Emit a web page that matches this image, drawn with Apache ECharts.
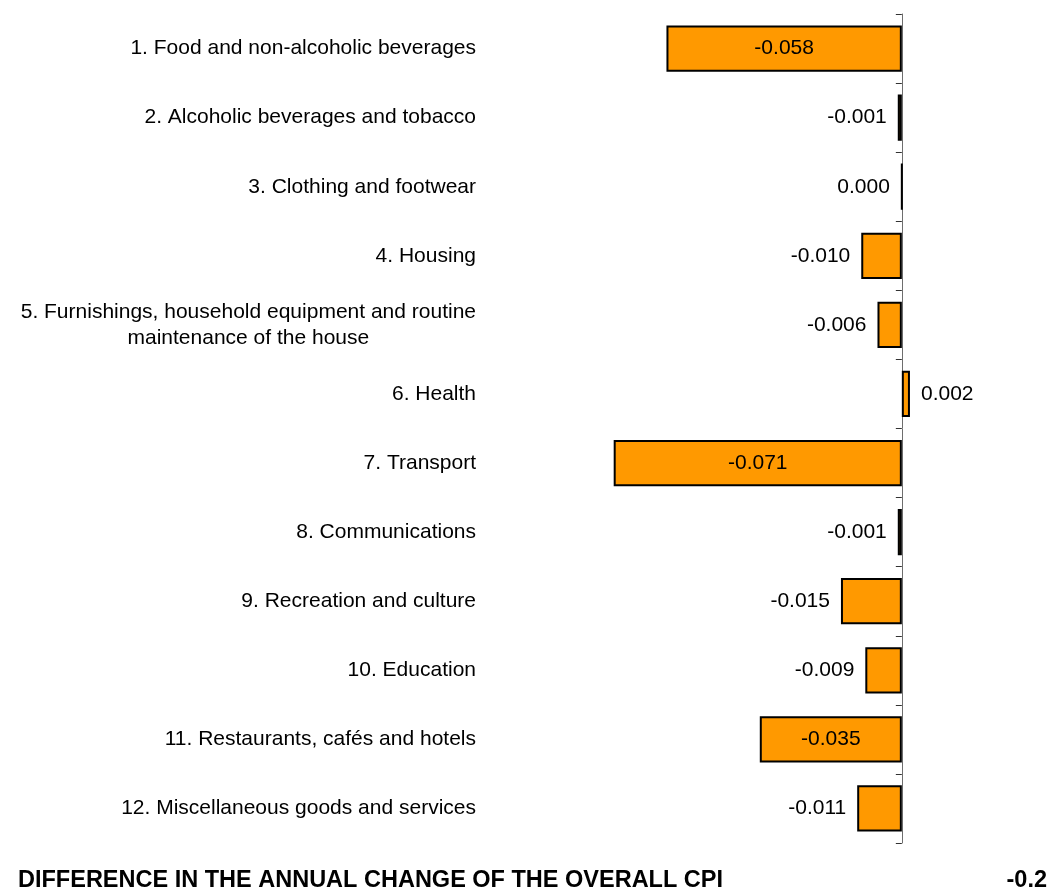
<!DOCTYPE html>
<html>
<head>
<meta charset="utf-8">
<script src="https://cdn.jsdelivr.net/npm/echarts@6/dist/echarts.min.js"></script>
<style>
  html, body { margin: 0; padding: 0; background: #fff; }
  #chart { width: 1052px; height: 891px; }
</style>
</head>
<body>
<div id="chart"></div>
<script>
// COICOP divisions
const categories = [
  '1. Food and non-alcoholic beverages',
  '2. Alcoholic beverages and tobacco',
  '3. Clothing and footwear',
  '4. Housing',
  '5. Furnishings, household equipment and routine\nmaintenance of the house',
  '6. Health',
  '7. Transport',
  '8. Communications',
  '9. Recreation and culture',
  '10. Education',
  '11. Restaurants, cafés and hotels',
  '12. Miscellaneous goods and services'
];

// Contribution of each division (percentage points)
const contributions = [-0.058, -0.001, 0.000, -0.010, -0.006, 0.002, -0.071, -0.001, -0.015, -0.009, -0.035, -0.011];

const totalLabel = 'DIFFERENCE IN THE ANNUAL CHANGE OF THE OVERALL CPI';
const totalChange = -0.2;

const FONT = "'Liberation Sans', Arial, sans-serif";

const chart = echarts.init(document.getElementById('chart'), null, { renderer: 'canvas' });

// big bars carry their value inside, small ones beside the bar end
const barData = contributions.map(function (v) {
  let pos;
  if (Math.abs(v) >= 0.03) pos = 'inside';
  else if (v > 0) pos = 'right';
  else pos = 'left';
  return { value: v, label: { position: pos } };
});

chart.setOption({
  animation: false,
  backgroundColor: '#ffffff',
  grid: { left: 496, right: 69, top: 14, bottom: 48, containLabel: false },
  xAxis: {
    type: 'value',
    min: -0.1,
    max: 0.02,
    axisLine: { show: false },
    axisTick: { show: false },
    axisLabel: { show: false },
    splitLine: { show: false }
  },
  yAxis: [
    {
      // category names, anchored at the left edge of the plot
      type: 'category',
      data: categories,
      inverse: true,
      position: 'left',
      axisLine: { show: false },
      axisTick: { show: false },
      splitLine: { show: false },
      axisLabel: {
        margin: 20,
        fontFamily: FONT,
        fontSize: 21,
        color: '#000',
        lineHeight: 26,
        formatter: function (s) {
          return s.split('\n').map(function (line) { return '{c|' + line + '}'; }).join('\n');
        },
        rich: {
          c: { align: 'center', fontFamily: FONT, fontSize: 21, color: '#000', lineHeight: 26 }
        }
      }
    },
    {
      // zero line with boundary ticks
      type: 'category',
      data: categories,
      inverse: true,
      position: 'left',
      axisLine: { show: true, onZero: true, onZeroAxisIndex: 0, lineStyle: { color: '#6e6e6e', width: 1 } },
      axisTick: { show: true, length: 6, inside: false, lineStyle: { color: '#333', width: 1 } },
      axisLabel: { show: false },
      splitLine: { show: false }
    }
  ],
  series: [
    {
      type: 'bar',
      yAxisIndex: 0,
      data: barData,
      barWidth: '67%',
      itemStyle: { color: '#FF9900', borderColor: '#000', borderWidth: 2 },
      label: {
        show: true,
        distance: 11,
        fontFamily: FONT,
        fontSize: 21,
        color: '#000',
        formatter: function (p) { return p.value.toFixed(3); }
      }
    }
  ],
  graphic: [
    {
      type: 'text',
      left: 18,
      top: 869,
      style: { text: totalLabel, font: 'bold 23.5px ' + FONT, fill: '#000' }
    },
    {
      type: 'text',
      right: 5,
      top: 869,
      style: { text: totalChange.toFixed(1), font: 'bold 23.5px ' + FONT, fill: '#000' }
    }
  ]
});
</script>
</body>
</html>
